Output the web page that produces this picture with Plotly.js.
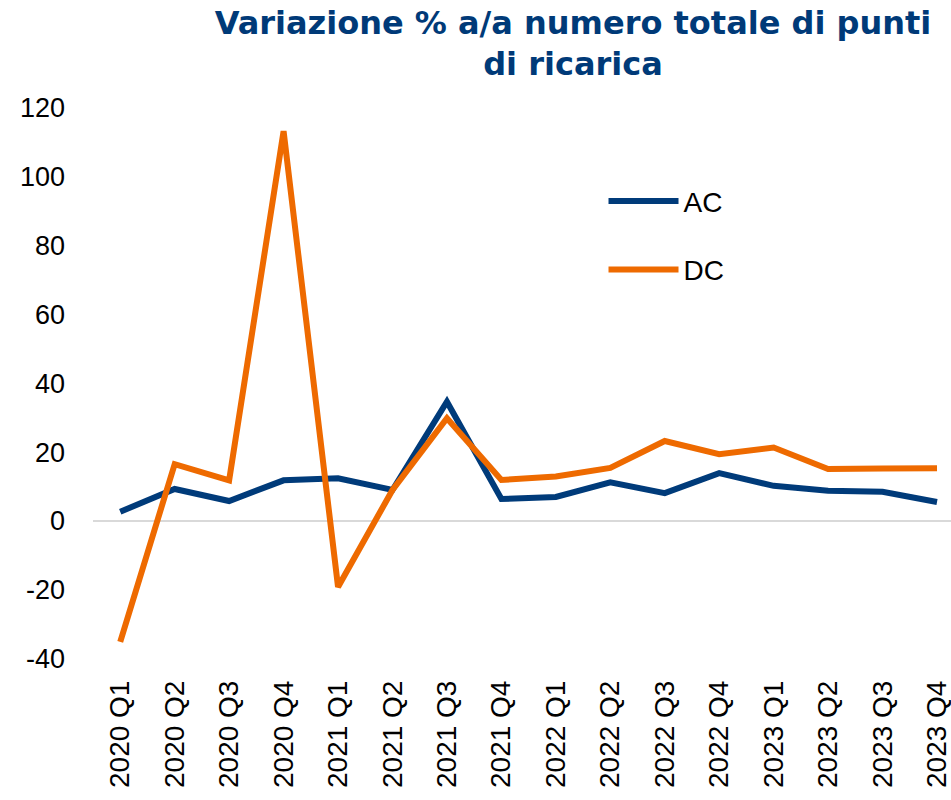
<!DOCTYPE html>
<html>
<head>
<meta charset="utf-8">
<script src="https://cdn.plot.ly/plotly-3.0.1.min.js"></script>
<style>
  html, body { margin: 0; padding: 0; background: #ffffff; }
  #chart { width: 951px; height: 800px; }
</style>
</head>
<body>
<div id="chart"></div>
<script>
const quarters = ["2020 Q1","2020 Q2","2020 Q3","2020 Q4","2021 Q1","2021 Q2","2021 Q3","2021 Q4",
                  "2022 Q1","2022 Q2","2022 Q3","2022 Q4","2023 Q1","2023 Q2","2023 Q3","2023 Q4"];
const acValues = [2.7, 9.3, 5.8, 11.8, 12.4, 9.0, 34.6, 6.4, 7.0, 11.2, 8.1, 13.9, 10.2, 8.8, 8.5, 5.5];
const dcValues = [-35.0, 16.5, 11.8, 113.0, -19.1, 9.0, 29.8, 11.9, 12.9, 15.4, 23.2, 19.4, 21.3, 15.1, 15.2, 15.3];
const yTicks = [-40, -20, 0, 20, 40, 60, 80, 100, 120];

const FONT = "Liberation Sans, Arial, sans-serif";

const traces = [
  { x: quarters, y: acValues, name: "AC", type: "scatter", mode: "lines",
    line: { color: "#003B7A", width: 6 }, legendgroup: "a" },
  { x: quarters, y: dcValues, name: "DC", type: "scatter", mode: "lines",
    line: { color: "#EE6A00", width: 6 }, legendgroup: "b" }
];

const layout = {
  width: 951, height: 800,
  paper_bgcolor: "#ffffff", plot_bgcolor: "#ffffff",
  margin: { l: 93, r: 0, t: 95, b: 132 },
  font: { family: FONT, size: 27, color: "#000000" },
  title: {
    text: "<b>Variazione % a/a numero totale di punti<br>di ricarica</b>",
    font: { family: "DejaVu Sans, sans-serif", size: 32, color: "#003A78" },
    x: 0.6025, xref: "container", xanchor: "center",
    y: 0.958, yref: "container", yanchor: "top"
  },
  xaxis: {
    type: "category",
    range: [-0.5, 15.257],
    tickangle: -90,
    showgrid: false, showline: false, zeroline: false,
    ticks: "", ticklabelstandoff: 6,
    tickfont: { family: FONT, size: 28, color: "#000000" },
    fixedrange: true
  },
  yaxis: {
    range: [-42.6, 123.5],
    tickvals: yTicks,
    ticktext: yTicks.map(String),
    showgrid: false, showline: false,
    zeroline: true, zerolinecolor: "#d9d9d9", zerolinewidth: 2,
    ticks: "", ticklabelstandoff: 27,
    tickfont: { family: FONT, size: 27, color: "#000000" },
    fixedrange: true
  },
  showlegend: true,
  legend: {
    x: 0.595, y: 0.858, xanchor: "left", yanchor: "top",
    bgcolor: "rgba(0,0,0,0)",
    font: { family: FONT, size: 28, color: "#000000" },
    traceorder: "grouped", tracegroupgap: 29,
    itemwidth: 70
  }
};

Plotly.newPlot("chart", traces, layout, { displayModeBar: false, staticPlot: true });
</script>
</body>
</html>
